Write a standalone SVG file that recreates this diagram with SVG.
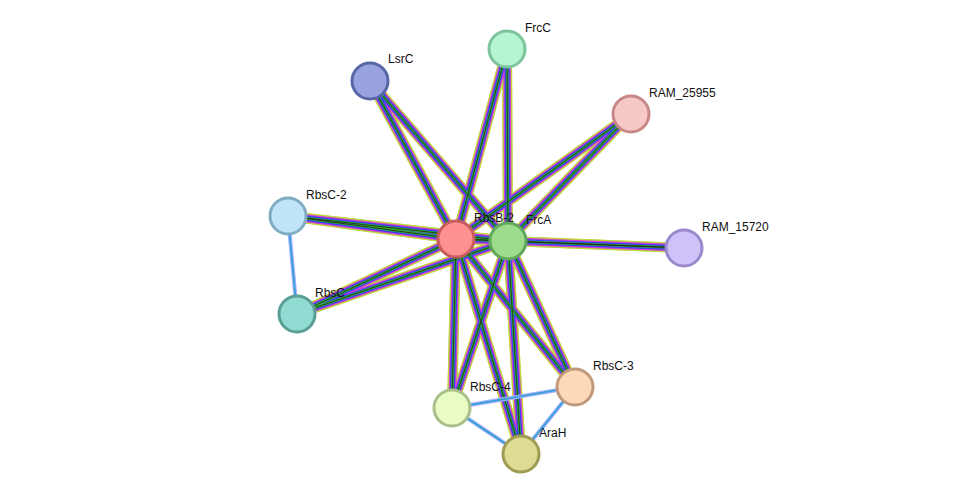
<svg xmlns="http://www.w3.org/2000/svg" width="976" height="500" viewBox="0 0 976 500">
<style>
.b1{stroke:#c0d840;stroke-width:10}
.b2{stroke:#d040d0;stroke-width:7.5}
.b3{stroke:#3a3aff;stroke-width:5}
.b4{stroke:#30b030;stroke-width:2.6}
.b5{stroke:#202020;stroke-width:0.8}
.s1{stroke:#a0b0ff;stroke-width:4}
.s2{stroke:#30a0d0;stroke-width:1.6}
circle{stroke-width:3}
text{font-family:"Liberation Sans",Arial,sans-serif;font-size:12px;fill:#111}
</style>
<defs>
<g id="dummy"/>
</defs>
<g id="connectors" fill="none">
<g id="big">
<path id="e" d="M456,239L507,49M456,239L370,81M456,239L631,114M456,239L288,216M456,239L508,241M456,239L684,248M456,239L297,314M456,239L575,387M456,239L452,408M456,239L521,454M508,241L507,49M508,241L370,81M508,241L631,114M508,241L288,216M508,241L684,248M508,241L297,314M508,241L575,387M508,241L452,408M508,241L521,454" class="b1"/>
<use href="#e" class="b2"/>
</g>
<path d="M456,239L507,49M456,239L370,81M456,239L631,114M456,239L288,216M456,239L508,241M456,239L684,248M456,239L297,314M456,239L575,387M456,239L452,408M456,239L521,454M508,241L507,49M508,241L370,81M508,241L631,114M508,241L288,216M508,241L684,248M508,241L297,314M508,241L575,387M508,241L452,408M508,241L521,454" class="b2"/>
<path d="M456,239L507,49M456,239L370,81M456,239L631,114M456,239L288,216M456,239L508,241M456,239L684,248M456,239L297,314M456,239L575,387M456,239L452,408M456,239L521,454M508,241L507,49M508,241L370,81M508,241L631,114M508,241L288,216M508,241L684,248M508,241L297,314M508,241L575,387M508,241L452,408M508,241L521,454" class="b3"/>
<path d="M456,239L507,49M456,239L370,81M456,239L631,114M456,239L288,216M456,239L508,241M456,239L684,248M456,239L297,314M456,239L575,387M456,239L452,408M456,239L521,454M508,241L507,49M508,241L370,81M508,241L631,114M508,241L288,216M508,241L684,248M508,241L297,314M508,241L575,387M508,241L452,408M508,241L521,454" class="b4"/>
<path d="M456,239L507,49M456,239L370,81M456,239L631,114M456,239L288,216M456,239L508,241M456,239L684,248M456,239L297,314M456,239L575,387M456,239L452,408M456,239L521,454M508,241L507,49M508,241L370,81M508,241L631,114M508,241L288,216M508,241L684,248M508,241L297,314M508,241L575,387M508,241L452,408M508,241L521,454" class="b5"/>
<path d="M288,216L297,314M452,408L575,387M452,408L521,454M575,387L521,454" class="s1"/>
<path d="M288,216L297,314M452,408L575,387M452,408L521,454M575,387L521,454" class="s2"/>
</g>
<g id="FrcC"><circle cx="507" cy="49" r="18" fill="#b6f5d2" stroke="#7cc49c"/><text x="525" y="32">FrcC</text></g>
<g id="LsrC"><circle cx="370" cy="81" r="18" fill="#98a3e0" stroke="#5866a6"/><text x="388" y="63">LsrC</text></g>
<g id="RAM_25955"><circle cx="631" cy="114" r="18" fill="#f6c8c8" stroke="#c88888"/><text x="649" y="97">RAM_25955</text></g>
<g id="RbsC-2"><circle cx="288" cy="216" r="18" fill="#bfe4f8" stroke="#82abc4"/><text x="306" y="199">RbsC-2</text></g>
<g id="RbsB-2"><circle cx="456" cy="239" r="18" fill="#ff9090" stroke="#c85c5c"/><text x="474" y="222">RbsB-2</text></g>
<g id="FrcA"><circle cx="508" cy="241" r="18" fill="#9cdc8a" stroke="#60a85c"/><text x="526" y="224">FrcA</text></g>
<g id="RAM_15720"><circle cx="684" cy="248" r="18" fill="#d0c2f8" stroke="#9a8acc"/><text x="702" y="231">RAM_15720</text></g>
<g id="RbsC"><circle cx="297" cy="314" r="18" fill="#90dcd2" stroke="#5a9e96"/><text x="315" y="297">RbsC</text></g>
<g id="RbsC-3"><circle cx="575" cy="387" r="18" fill="#fdd9ba" stroke="#c09a7a"/><text x="593" y="370">RbsC-3</text></g>
<g id="RbsC-4"><circle cx="452" cy="408" r="18" fill="#e8fcc4" stroke="#a8c08a"/><text x="470" y="391">RbsC-4</text></g>
<g id="AraH"><circle cx="521" cy="454" r="18" fill="#dcdc92" stroke="#9e9c52"/><text x="539" y="437">AraH</text></g>
</svg>
